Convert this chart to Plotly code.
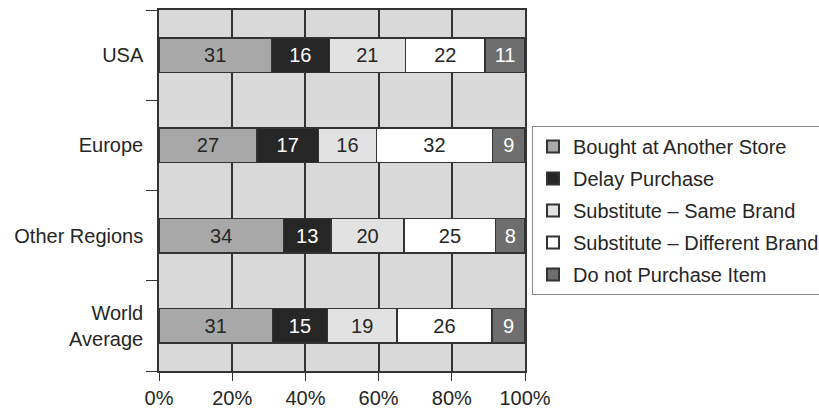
import plotly.graph_objects as go

regions = ["USA", "Europe", "Other Regions", "World<br>Average"]
series_names = [
    "Bought at Another Store",
    "Delay Purchase",
    "Substitute \u2013 Same Brand",
    "Substitute \u2013 Different Brand",
    "Do not Purchase Item",
]
bought_elsewhere = [31, 27, 34, 31]
delay_purchase = [16, 17, 13, 15]
substitute_same = [21, 16, 20, 19]
substitute_diff = [22, 32, 25, 26]
not_purchase = [11, 9, 8, 9]

series_values = [bought_elsewhere, delay_purchase, substitute_same, substitute_diff, not_purchase]
fill_colors = ["#a8a8a8", "#262626", "#e2e2e2", "#ffffff", "#6e6e6e"]
text_colors = ["#262626", "#ffffff", "#262626", "#262626", "#ffffff"]

FONT = "Liberation Sans, Arial, sans-serif"

fig = go.Figure()
for i, (name, vals, fc, tc) in enumerate(zip(series_names, series_values, fill_colors, text_colors)):
    fig.add_trace(go.Bar(
        y=regions,
        x=vals,
        name=name,
        legendgroup=f"g{i}",
        orientation="h",
        marker=dict(color=fc, line=dict(color="#333333", width=1.5)),
        text=[str(v) for v in vals],
        textposition="inside",
        insidetextanchor="middle",
        textfont=dict(color=tc, size=20, family=FONT),
        constraintext="none",
    ))

fig.update_layout(
    barmode="stack",
    barnorm="percent",
    bargap=0.62,
    width=819,
    height=414,
    margin=dict(l=159, r=294, t=10, b=43, autoexpand=False),
    paper_bgcolor="#ffffff",
    plot_bgcolor="#d9d9d9",
    font=dict(family=FONT, size=20, color="#262626"),
    showlegend=True,
    legend=dict(
        xref="container", yref="container",
        x=532 / 819, xanchor="left",
        y=1 - 210.5 / 414, yanchor="middle",
        bordercolor="#888888", borderwidth=1,
        bgcolor="#ffffff",
        font=dict(size=20, color="#262626"),
        traceorder="grouped",
        itemsizing="constant",
        itemwidth=30,
        tracegroupgap=3,
    ),
    xaxis=dict(
        range=[0, 100],
        dtick=20,
        ticksuffix="%",
        showgrid=True,
        gridcolor="#333333",
        gridwidth=1.5,
        zeroline=False,
        showline=True,
        linecolor="#333333",
        linewidth=1.5,
        mirror=True,
        ticks="outside",
        ticklen=8,
        tickcolor="#333333",
        tickfont=dict(size=20),
        automargin=False,
    ),
    yaxis=dict(
        categoryorder="array",
        categoryarray=regions[::-1],
        tickson="boundaries",
        ticks="outside",
        ticklen=11,
        tickcolor="#333333",
        showgrid=False,
        showline=True,
        linecolor="#333333",
        linewidth=1.5,
        mirror=True,
        tickfont=dict(size=20),
        ticklabelstandoff=10,
        automargin=False,
    ),
)

fig.write_html("out.html")
